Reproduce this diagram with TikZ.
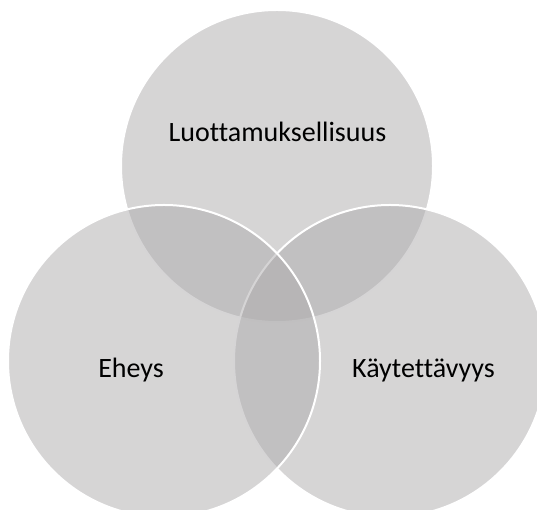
\documentclass[tikz,border=0pt]{standalone}
\usepackage{fontspec}
\setmainfont{Carlito}[Ligatures={NoCommon}]
\definecolor{venngray}{RGB}{173,171,172}
\begin{document}
\begin{tikzpicture}[x=1pt,y=1pt,
  venn/.style={circle, inner sep=0pt, minimum size=312pt, fill=venngray, fill opacity=0.5, draw=white, draw opacity=1, line width=2pt},
  lbl/.style={anchor=base, font=\fontsize{28}{34}\selectfont, text=black}]
\path[use as bounding box, clip] (0,0) rectangle (537,510);
\node[venn] (top) at (277,344) {};
\node[venn] (right) at (390,149) {};
\node[venn] (left) at (164,149) {};
\node[lbl] (ltop) at (277.5,368) {Luottamuksellisuus};
\node[lbl] (lleft) at (131,132) {Eheys};
\node[lbl] (lright) at (423.5,132) {Käytettävyys};
\end{tikzpicture}
\end{document}
